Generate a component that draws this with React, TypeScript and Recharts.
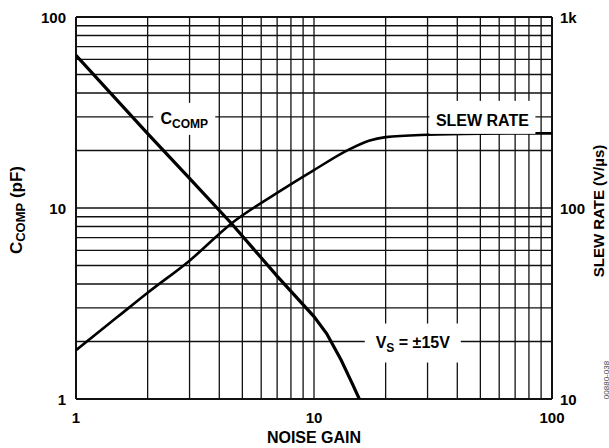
import React from "react"
import {
  LineChart,
  Line,
  XAxis,
  YAxis,
  CartesianGrid,
  ReferenceLine,
  ReferenceDot,
} from "recharts"

// grid / tick values
const gainTicks = [1, 2, 3, 4, 5, 6, 7, 8, 9, 10, 20, 30, 40, 50, 60, 70, 80, 90, 100]
const capTicks = [1, 2, 3, 4, 5, 6, 7, 8, 9, 10, 20, 30, 40, 50, 60, 70, 80, 90, 100]
const slewTicks = [10, 100, 1000]
const gainLabels = [1, 10, 100]
const capLabels = [1, 10, 100]

// C_COMP (pF) vs noise gain
const ccompGain = [1, 2, 3, 4.5, 7, 10, 11.3, 13, 14.5, 15.5]
const ccompPf = [63, 24.5, 14.3, 8.3, 4.4, 2.7, 2.2, 1.6, 1.2, 1.0]

// slew rate (V/µs) vs noise gain
const slewGain = [1, 1.5, 2, 3, 4.5, 7, 10, 14, 17, 20, 30, 50, 100]
const slewRate = [18, 27, 36, 53, 83, 120, 158, 202, 225, 235, 242, 245, 246]

const ccompData = ccompGain.map((g, i) => ({ g, c: ccompPf[i] }))
const slewData = slewGain.map((g, i) => ({ g, s: slewRate[i] }))

const FONT = "'Liberation Sans', Arial, Helvetica, sans-serif"

const XTick = ({ x, y, payload }: any) => {
  if (!gainLabels.includes(payload.value)) return null
  return (
    <text x={x} y={y + 22} textAnchor="middle" fontSize={15} fontWeight="bold" fontFamily={FONT} fill="#000">
      {payload.value}
    </text>
  )
}

const LeftTick = ({ x, y, payload }: any) => {
  if (!capLabels.includes(payload.value)) return null
  return (
    <text x={x - 8} y={y + 5.5} textAnchor="end" fontSize={15} fontWeight="bold" fontFamily={FONT} fill="#000">
      {payload.value}
    </text>
  )
}

const RightTick = ({ x, y, payload }: any) => (
  <text x={x + 6} y={y + 5.5} textAnchor="start" fontSize={15} fontWeight="bold" fontFamily={FONT} fill="#000">
    {payload.value === 1000 ? "1k" : payload.value}
  </text>
)

const boxLabel = (w: number, h: number, dy: number, tdy: number, content: React.ReactNode) => (p: any) => (
  <g>
    <rect x={p.cx - w / 2} y={p.cy + dy} width={w} height={h} fill="#fff" />
    <text x={p.cx} y={p.cy + tdy} textAnchor="middle" fontSize={16} fontWeight="bold" fontFamily={FONT} fill="#000">
      {content}
    </text>
  </g>
)

export default function App() {
  return (
    <div style={{ position: "absolute", left: 0, top: 0, width: 609, height: 448, background: "#fff" }}>
      <LineChart width={609} height={448} margin={{ top: 17, right: 0, bottom: 0, left: 0 }}>
        <CartesianGrid
          xAxisId="x"
          yAxisId="left"
          stroke="#111"
          strokeWidth={1.3}
          strokeDasharray=""
        />
        <XAxis
          xAxisId="x"
          dataKey="g"
          type="number"
          scale="log"
          domain={[1, 100]}
          ticks={gainTicks}
          interval={0}
          allowDataOverflow
          height={49}
          axisLine={false}
          tickLine={false}
          tickSize={0}
          tick={<XTick />}
        />
        <YAxis
          yAxisId="left"
          type="number"
          scale="log"
          domain={[1, 100]}
          ticks={capTicks}
          interval={0}
          allowDataOverflow
          width={76}
          axisLine={false}
          tickLine={false}
          tickSize={0}
          tick={<LeftTick />}
        />
        <YAxis
          yAxisId="right"
          orientation="right"
          type="number"
          scale="log"
          domain={[10, 1000]}
          ticks={slewTicks}
          interval={0}
          allowDataOverflow
          width={57}
          axisLine={false}
          tickLine={false}
          tickSize={0}
          tick={<RightTick />}
        />
        <ReferenceLine xAxisId="x" yAxisId="left" x={1} stroke="#111" strokeWidth={2} />
        <ReferenceLine xAxisId="x" yAxisId="left" x={100} stroke="#111" strokeWidth={2} />
        <ReferenceLine xAxisId="x" yAxisId="left" y={1} stroke="#111" strokeWidth={2} />
        <ReferenceLine xAxisId="x" yAxisId="left" y={100} stroke="#111" strokeWidth={2} />

        <ReferenceDot
          xAxisId="x"
          yAxisId="left"
          x={2.85}
          y={30}
          r={0}
          shape={boxLabel(62, 32, -14, 7, (
            <>
              C<tspan fontSize={12} dy={4}>COMP</tspan>
            </>
          ))}
        />
        <ReferenceDot
          xAxisId="x"
          yAxisId="left"
          x={51}
          y={30}
          r={0}
          shape={boxLabel(106, 33, -16, 9, "SLEW RATE")}
        />
        <ReferenceDot
          xAxisId="x"
          yAxisId="left"
          x={26}
          y={2}
          r={0}
          shape={boxLabel(96, 39, -18, 6, (
            <>
              V<tspan fontSize={12} dy={4}>S</tspan>
              <tspan dy={-4}> = ±15V</tspan>
            </>
          ))}
        />

        <Line
          xAxisId="x"
          yAxisId="left"
          data={ccompData}
          dataKey="c"
          type="linear"
          stroke="#000"
          strokeWidth={3.2}
          dot={false}
          isAnimationActive={false}
        />
        <Line
          xAxisId="x"
          yAxisId="right"
          data={slewData}
          dataKey="s"
          type="monotoneX"
          stroke="#000"
          strokeWidth={2.6}
          dot={false}
          isAnimationActive={false}
        />

        <text x={314} y={443} textAnchor="middle" fontSize={16} fontWeight="bold" fontFamily={FONT} fill="#000">
          NOISE GAIN
        </text>
        <text
          x={16}
          y={210}
          transform="rotate(-90 16 210)"
          textAnchor="middle"
          dominantBaseline="central"
          fontSize={17}
          fontWeight="bold"
          fontFamily={FONT}
          fill="#000"
        >
          C<tspan fontSize={13} dy={4}>COMP</tspan>
          <tspan dy={-4}> (pF)</tspan>
        </text>
        <text
          x={598}
          y={211}
          transform="rotate(-90 598 211)"
          textAnchor="middle"
          dominantBaseline="central"
          fontSize={15}
          fontWeight="bold"
          fontFamily={FONT}
          fill="#000"
        >
          SLEW RATE (V/µs)
        </text>
        <text
          x={606}
          y={380}
          transform="rotate(-90 606 380)"
          textAnchor="middle"
          dominantBaseline="central"
          fontSize={8}
          fontFamily={FONT}
          fill="#444"
        >
          00880-038
        </text>
      </LineChart>
    </div>
  )
}
